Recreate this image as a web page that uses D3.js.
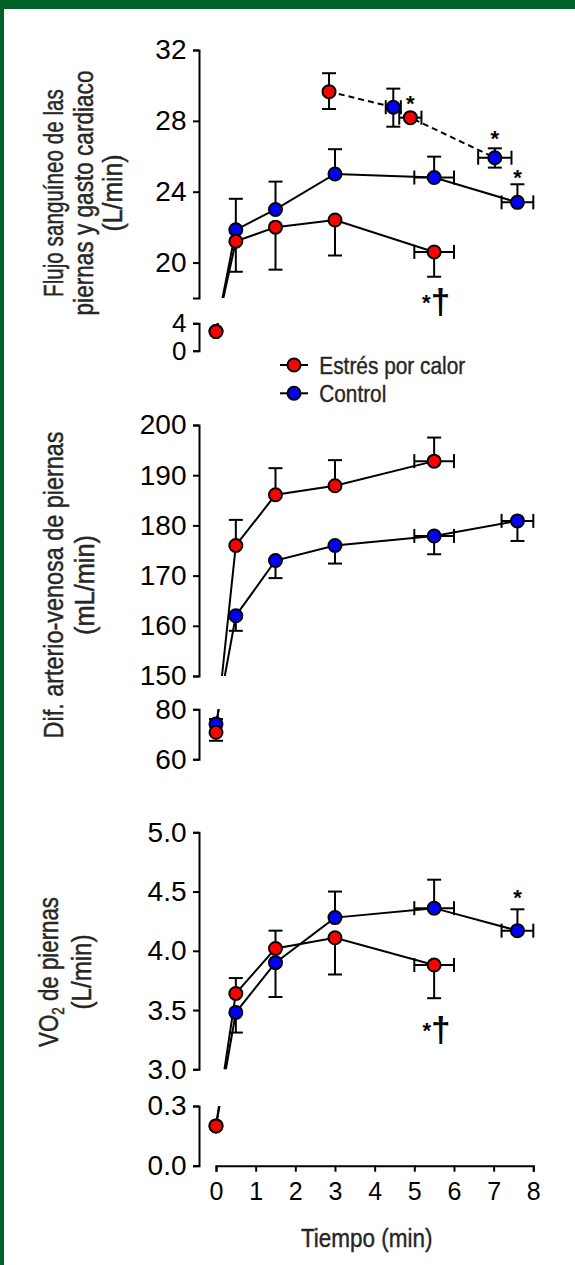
<!DOCTYPE html>
<html>
<head>
<meta charset="utf-8">
<script src="https://cdnjs.cloudflare.com/ajax/libs/d3/7.8.5/d3.min.js"></script>
<style>
  html, body { margin: 0; padding: 0; background: #ffffff; }
  svg { display: block; }
</style>
</head>
<body>
<div id="chart"></div>
<script>
// Time points (min) and their horizontal error
var heatTime = [0, 0.5, 1.5, 3, 5.5];
var heatTimeErr = [0, 0, 0, 0, 0.5];
var ctlTime = [0, 0.5, 1.5, 3, 5.5, 7.6];
var ctlTimeErr = [0, 0, 0, 0, 0.5, 0.4];

// Panel A: leg blood flow (L/min)
var flowHeat = [2.8, 21.2, 22.0, 22.4, 20.6];
var flowHeatUp = [0, 0, 0, 0, 0];
var flowHeatDn = [0, 1.72, 2.4, 2.0, 1.4];
var flowCtl = [2.8, 21.85, 23.0, 25.0, 24.8, 23.4];
var flowCtlUp = [0, 1.75, 1.57, 1.4, 1.18, 1.02];
var flowCtlDn = [0, 0, 0, 0, 0, 0];

// Panel A: cardiac output (dashed)
var coHeatTime = [2.85, 4.9];
var coHeatTimeErr = [0, 0.28];
var coHeat = [29.65, 28.18];
var coHeatUp = [1.04, 0];
var coHeatDn = [0.98, 0];
var coCtlTime = [4.47, 7.03];
var coCtlTimeErr = [0.19, 0.42];
var coCtl = [28.77, 25.92];
var coCtlUp = [1.05, 0.53];
var coCtlDn = [1.1, 0.56];

// Panel B: a-v difference (mL/min)
var avHeat = [70.8, 176.0, 186.1, 187.9, 192.8];
var avHeatUp = [0, 5.1, 5.3, 5.1, 4.7];
var avHeatDn = [3.4, 0, 0, 0, 0];
var avCtl = [74.1, 162.0, 173.0, 176.0, 177.9, 180.9];
var avCtlUp = [2, 0, 0, 0, 0, 0];
var avCtlDn = [0, 3.0, 3.5, 3.6, 3.65, 4.0];

// Panel C: leg VO2 (L/min)
var vo2Heat = [0.2, 3.64, 4.02, 4.11, 3.88];
var vo2HeatUp = [0, 0.13, 0.15, 0, 0];
var vo2HeatDn = [0, 0, 0, 0.31, 0.28];
var vo2Ctl = [0.2, 3.48, 3.90, 4.28, 4.36, 4.17];
var vo2CtlUp = [0, 0, 0, 0.22, 0.24, 0.18];
var vo2CtlDn = [0, 0.17, 0.29, 0, 0, 0];

// Significance marks
var flowStarX = [4.9, 7.03, 7.6];
var flowStarY = [28.55, 26.6, 24.37];
var flowDagX = [5.55];
var flowDagY = [17.12];
var vo2StarX = [7.6];
var vo2StarY = [4.39];
var vo2DagX = [5.56];
var vo2DagY = [3.23];

var xTicks = [0, 1, 2, 3, 4, 5, 6, 7, 8];
var legendLabels = ["Estrés por calor", "Control"];

var width = 575;
var height = 1265;
var axisX = 199;
var red = "#ff0000";
var blue = "#0000ff";
var labelColor = "#262626";
var font = "'Liberation Sans', Arial, sans-serif";

var svg = d3.select("#chart")
    .append("svg")
    .attr("width", width)
    .attr("height", height);

// green frame
svg.append("rect").attr("width", width).attr("height", height).attr("fill", "#006128");
svg.append("rect").attr("x", 4).attr("y", 9).attr("width", width - 4).attr("height", height - 9).attr("fill", "#ffffff");

var x = d3.scaleLinear().domain([0, 8]).range([216, 533.3]);

// squeeze a label along its reading direction to get the condensed look
function condensed(sel, px, py, rot, len) {
  var natural = sel.node().getComputedTextLength();
  var k = len / natural;
  sel.attr("transform", "translate(" + px + "," + py + ")" + (rot ? " rotate(" + rot + ")" : "") + " scale(" + k + ",1)");
}

var panels = [
  {
    id: "a",
    upperDomain: [18, 32], upperRange: [298, 50], upperTicks: [20, 24, 28, 32],
    lowerDomain: [0, 4], lowerRange: [350.7, 323.3], lowerTicks: [0, 4],
    fmt: d3.format("d"),
    heat: flowHeat, heatUp: flowHeatUp, heatDn: flowHeatDn,
    ctl: flowCtl, ctlUp: flowCtlUp, ctlDn: flowCtlDn,
    starX: flowStarX, starY: flowStarY, dagX: flowDagX, dagY: flowDagY,
    title: ["Flujo sanguíneo de las", "piernas y gasto cardiaco", "(L/min)"],
    titleLen: [208, 245, 77],
    titleX: [63, 92.5, 122], titleY: 193
  },
  {
    id: "b",
    upperDomain: [150, 200], upperRange: [676, 425], upperTicks: [150, 160, 170, 180, 190, 200],
    lowerDomain: [60, 80], lowerRange: [759.3, 709.3], lowerTicks: [60, 80],
    fmt: d3.format("d"),
    heat: avHeat, heatUp: avHeatUp, heatDn: avHeatDn,
    ctl: avCtl, ctlUp: avCtlUp, ctlDn: avCtlDn,
    starX: [], starY: [], dagX: [], dagY: [],
    title: ["Dif. arterio-venosa de piernas", "(mL/min)"],
    titleLen: [307, 100],
    titleX: [63, 94], titleY: 585
  },
  {
    id: "c",
    upperDomain: [3, 5], upperRange: [1069.3, 832.3], upperTicks: [3, 3.5, 4, 4.5, 5],
    lowerDomain: [0, 0.3], lowerRange: [1165.7, 1106], lowerTicks: [0, 0.3],
    fmt: d3.format(".1f"),
    heat: vo2Heat, heatUp: vo2HeatUp, heatDn: vo2HeatDn,
    ctl: vo2Ctl, ctlUp: vo2CtlUp, ctlDn: vo2CtlDn,
    starX: vo2StarX, starY: vo2StarY, dagX: vo2DagX, dagY: vo2DagY,
    title: ["VO2 de piernas", "(L/min)"],
    titleLen: [150, 75],
    titleX: [58, 91], titleY: 972
  }
];

function styleAxis(g, size) {
  g.select(".domain").attr("stroke", "#000").attr("stroke-width", 2);
  g.selectAll(".tick line").attr("stroke", "#000").attr("stroke-width", 2);
  g.selectAll(".tick text")
    .attr("fill", "#000")
    .attr("font-family", font)
    .attr("font-size", size);
}

// build point list of one series
function makePoints(time, timeErr, vals, up, dn) {
  return vals.map(function(v, i) {
    return { t: time[i], te: timeErr[i], v: v, up: up[i], dn: dn[i] };
  });
}

function drawErrors(g, pts, yPos) {
  var cap = 7;
  pts.forEach(function(d) {
    var cx = x(d.t), cy = yPos(d.v);
    [d.v + d.up, d.v - d.dn].forEach(function(end, k) {
      var e = k === 0 ? d.up : d.dn;
      if (!e) return;
      var ey = yPos(end);
      g.append("line").attr("x1", cx).attr("x2", cx).attr("y1", cy).attr("y2", ey);
      g.append("line").attr("x1", cx - cap).attr("x2", cx + cap).attr("y1", ey).attr("y2", ey);
    });
    if (d.te) {
      var xa = x(d.t - d.te), xb = x(d.t + d.te);
      g.append("line").attr("x1", xa).attr("x2", xb).attr("y1", cy).attr("y2", cy);
      g.append("line").attr("x1", xa).attr("x2", xa).attr("y1", cy - cap).attr("y2", cy + cap);
      g.append("line").attr("x1", xb).attr("x2", xb).attr("y1", cy - cap).attr("y2", cy + cap);
    }
  });
}

function drawDots(g, pts, yPos, color) {
  g.selectAll("circle.c" + color.slice(1))
    .data(pts)
    .enter()
    .append("circle")
    .attr("cx", function(d) { return x(d.t); })
    .attr("cy", function(d) { return yPos(d.v); })
    .attr("r", 6.5)
    .attr("fill", color)
    .attr("stroke", "#000")
    .attr("stroke-width", 2);
}

panels.forEach(function(p) {
  var yU = d3.scaleLinear().domain(p.upperDomain).range(p.upperRange);
  var yL = d3.scaleLinear().domain(p.lowerDomain).range(p.lowerRange);
  var yPos = function(v) { return v >= p.upperDomain[0] - 1e-9 ? yU(v) : yL(v); };

  // broken y axis
  var gu = svg.append("g")
    .attr("transform", "translate(" + axisX + ",0)")
    .call(d3.axisLeft(yU).tickValues(p.upperTicks).tickFormat(p.fmt).tickSize(6).tickPadding(6.5));
  styleAxis(gu, 28);
  var gl = svg.append("g")
    .attr("transform", "translate(" + axisX + ",0)")
    .call(d3.axisLeft(yL).tickValues(p.lowerTicks).tickFormat(p.fmt).tickSize(6).tickPadding(6.5));
  styleAxis(gl, p.id === "a" ? 26 : 28);

  // y title
  var title = svg.append("g")
    .attr("fill", labelColor)
    .attr("stroke", labelColor)
    .attr("stroke-width", 0.45)
    .attr("font-family", font)
    .attr("font-size", 28);
  p.title.forEach(function(line, i) {
    var t = title.append("text").attr("text-anchor", "middle");
    if (line.indexOf("VO2") === 0) {
      t.append("tspan").text("VO");
      t.append("tspan").attr("font-size", 17).attr("dy", 6).text("2");
      t.append("tspan").attr("dy", -6).text(line.slice(3));
    } else {
      t.text(line);
    }
    condensed(t, p.titleX[i], p.titleY, -90, p.titleLen[i]);
  });

  // clip for connecting lines: hide the axis gap
  var clip = svg.append("clipPath").attr("id", "clip-" + p.id);
  clip.append("rect").attr("x", 0).attr("y", 0).attr("width", width).attr("height", yU(p.upperDomain[0]));
  clip.append("rect").attr("x", 0).attr("y", yL(p.lowerDomain[1])).attr("width", width).attr("height", height);

  var heatPts = makePoints(heatTime, heatTimeErr, p.heat, p.heatUp, p.heatDn);
  var ctlPts = makePoints(ctlTime, ctlTimeErr, p.ctl, p.ctlUp, p.ctlDn);

  var line = d3.line()
    .x(function(d) { return x(d.t); })
    .y(function(d) { return yPos(d.v); });

  var lines = svg.append("g")
    .attr("clip-path", "url(#clip-" + p.id + ")")
    .attr("fill", "none")
    .attr("stroke", "#000")
    .attr("stroke-width", 2);
  lines.append("path").attr("d", line(ctlPts));
  lines.append("path").attr("d", line(heatPts));

  var extraHeat = [], extraCtl = [];
  if (p.id === "a") {
    extraHeat = makePoints(coHeatTime, coHeatTimeErr, coHeat, coHeatUp, coHeatDn);
    extraCtl = makePoints(coCtlTime, coCtlTimeErr, coCtl, coCtlUp, coCtlDn);
    var coAll = extraHeat.concat(extraCtl).sort(function(a, b) { return a.t - b.t; });
    lines.append("path").attr("d", line(coAll)).attr("stroke-dasharray", "6,4");
  }

  var errs = svg.append("g").attr("stroke", "#000").attr("stroke-width", 2);
  drawErrors(errs, ctlPts.concat(extraCtl), yPos);
  drawErrors(errs, heatPts.concat(extraHeat), yPos);

  var dots = svg.append("g");
  drawDots(dots, ctlPts.concat(extraCtl), yPos, blue);
  drawDots(dots, heatPts.concat(extraHeat), yPos, red);

  // significance marks
  var marks = svg.append("g").attr("font-family", font).attr("font-weight", "bold").attr("fill", "#000");
  p.starX.forEach(function(sx, i) {
    marks.append("text")
      .attr("x", x(sx)).attr("y", yU(p.starY[i]))
      .attr("text-anchor", "middle").attr("font-size", 22)
      .text("*");
  });
  p.dagX.forEach(function(dx, i) {
    var t = marks.append("text")
      .attr("x", x(dx)).attr("y", yU(p.dagY[i]))
      .attr("text-anchor", "middle");
    t.append("tspan").attr("font-size", 22).attr("dy", -4).text("*");
    t.append("tspan").attr("font-size", 35).attr("dy", 4).text("†");
  });
});

// x axis
var gx = svg.append("g")
  .attr("transform", "translate(0,1165.7)")
  .call(d3.axisBottom(x).tickValues(xTicks).tickFormat(d3.format("d")).tickSize(6).tickPadding(11));
styleAxis(gx, 25);

var xTitle = svg.append("text")
  .attr("text-anchor", "middle")
  .attr("font-family", font).attr("font-size", 26).attr("fill", labelColor)
  .attr("stroke", labelColor).attr("stroke-width", 0.4)
  .text("Tiempo (min)");
condensed(xTitle, 366.7, 1247, 0, 131.7);

// legend
var legend = svg.append("g");
var legendLen = [146, 67];
[red, blue].forEach(function(c, i) {
  var ly = 365 + i * 28.3;
  legend.append("line").attr("x1", 280).attr("x2", 308).attr("y1", ly).attr("y2", ly)
    .attr("stroke", "#000").attr("stroke-width", 2);
  legend.append("circle").attr("cx", 294).attr("cy", ly).attr("r", 6.5)
    .attr("fill", c).attr("stroke", "#000").attr("stroke-width", 2);
  var lt = legend.append("text")
    .attr("font-family", font).attr("font-size", 24.5).attr("fill", labelColor)
    .attr("stroke", labelColor).attr("stroke-width", 0.4)
    .text(legendLabels[i]);
  condensed(lt, 319.3, ly + 8.5, 0, legendLen[i]);
});
</script>
</body>
</html>
